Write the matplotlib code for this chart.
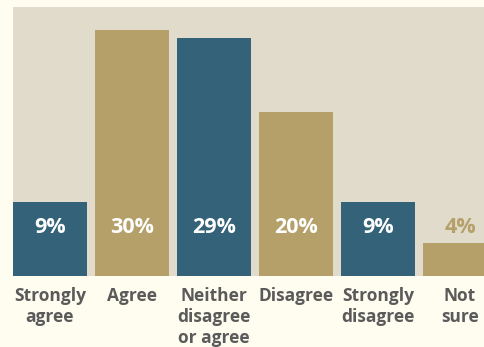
import matplotlib
matplotlib.use("Agg")
import matplotlib.pyplot as plt
from matplotlib.transforms import blended_transform_factory

categories = ["Strongly\nagree", "Agree", "Neither\ndisagree\nor agree", "Disagree", "Strongly\ndisagree", "Not\nsure"]
values = [9, 30, 29, 20, 9, 4]
labels = ["9%", "30%", "29%", "20%", "9%", "4%"]

BLUE = "#346379"
TAN = "#b5a069"
colors = [BLUE, TAN, BLUE, TAN, BLUE, TAN]

W, H = 485, 347
fig = plt.figure(figsize=(W / 100, H / 100), dpi=100)
fig.patch.set_facecolor("#fffdef")
ax = fig.add_axes([13 / W, (H - 276) / H, (W - 13) / W, 269 / H])
ax.set_facecolor("#e1dbcb")

bw = 74 / 82
x = list(range(len(values)))
ax.bar(x, values, width=bw, color=colors, zorder=2)
ax.set_xlim(-bw / 2, -bw / 2 + 472 / 82)
ax.set_ylim(0, 269 / 8.2)
for s in ax.spines.values():
    s.set_visible(False)
ax.set_xticks([])
ax.set_yticks([])

font = "Open Sans"
for i, (v, lab) in enumerate(zip(values, labels)):
    inside = v > 6
    ax.text(i, 5.9, lab, ha="center", va="center", fontsize=15.5,
            fontweight="bold", family=font,
            color="white" if inside else TAN, zorder=3)

trans = blended_transform_factory(ax.transData, fig.transFigure)
for i, c in enumerate(categories):
    ax.text(i, (H - 287) / H, c, transform=trans, ha="center", va="top",
            fontsize=12.5, fontweight="bold", family=font, color="#5a5a5a",
            linespacing=1.22, clip_on=False)

fig.savefig("out.png", dpi=100, facecolor=fig.get_facecolor())
